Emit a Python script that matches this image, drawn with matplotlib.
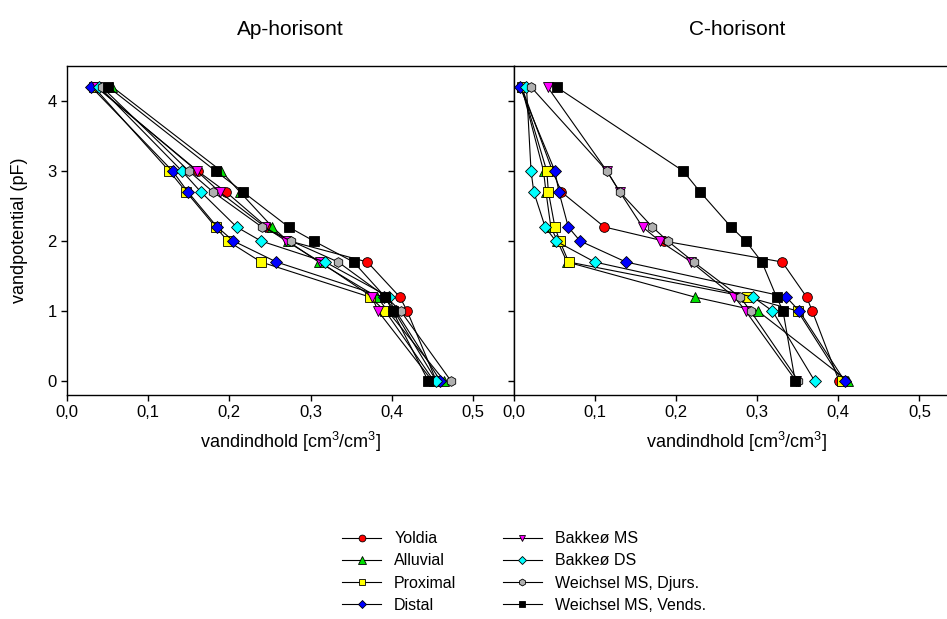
import matplotlib
matplotlib.use('Agg')
import matplotlib.pyplot as plt
from matplotlib.ticker import FixedLocator, FuncFormatter

plt.rcParams['font.family'] = ['Liberation Sans', 'DejaVu Sans']
plt.rcParams['mathtext.fontset'] = 'custom'
plt.rcParams['mathtext.rm'] = 'Liberation Sans'
plt.rcParams['mathtext.it'] = 'Liberation Sans'

# data
pF = [4.2, 3.0, 2.7, 2.2, 2.0, 1.7, 1.2, 1.0, 0.0]

names = ['Yoldia', 'Alluvial', 'Proximal', 'Distal',
         'Bakkeø MS', 'Bakkeø DS', 'Weichsel MS, Djurs.', 'Weichsel MS, Vends.']

# Ap-horisont
ap_yoldia = [0.036, 0.161, 0.196, 0.246, 0.274, 0.370, 0.410, 0.419, 0.455]
ap_alluvial = [0.056, 0.190, 0.213, 0.253, 0.272, 0.310, 0.382, 0.395, 0.465]
ap_proximal = [0.033, 0.126, 0.147, 0.183, 0.198, 0.239, 0.373, 0.392, 0.452]
ap_distal = [0.030, 0.130, 0.149, 0.185, 0.205, 0.258, 0.390, 0.405, 0.460]
ap_bakkeo_ms = [0.037, 0.160, 0.188, 0.244, 0.270, 0.312, 0.376, 0.383, 0.450]
ap_bakkeo_ds = [0.040, 0.1415, 0.165, 0.209, 0.239, 0.318, 0.397, 0.403, 0.455]
ap_weich_djurs = [0.043, 0.150, 0.180, 0.240, 0.276, 0.334, 0.393, 0.411, 0.473]
ap_weich_vends = [0.051, 0.183, 0.217, 0.273, 0.304, 0.353, 0.392, 0.401, 0.445]

# C-horisont
c_yoldia = [0.010, 0.048, 0.059, 0.112, 0.185, 0.331, 0.361, 0.368, 0.401]
c_alluvial = [0.010, 0.037, 0.040, 0.046, 0.054, 0.066, 0.223, 0.301, 0.412]
c_proximal = [0.010, 0.041, 0.043, 0.051, 0.057, 0.068, 0.288, 0.350, 0.405]
c_distal = [0.008, 0.051, 0.056, 0.0675, 0.082, 0.1385, 0.336, 0.352, 0.408]
c_bakkeo_ms = [0.042, 0.115, 0.131, 0.159, 0.180, 0.219, 0.272, 0.286, 0.348]
c_bakkeo_ds = [0.016, 0.0216, 0.025, 0.039, 0.052, 0.100, 0.295, 0.319, 0.371]
c_weich_djurs = [0.0216, 0.115, 0.131, 0.171, 0.190, 0.222, 0.279, 0.292, 0.351]
c_weich_vends = [0.053, 0.209, 0.230, 0.268, 0.286, 0.306, 0.324, 0.332, 0.347]

ap_series = [ap_yoldia, ap_alluvial, ap_proximal, ap_distal,
             ap_bakkeo_ms, ap_bakkeo_ds, ap_weich_djurs, ap_weich_vends]
c_series = [c_yoldia, c_alluvial, c_proximal, c_distal,
            c_bakkeo_ms, c_bakkeo_ds, c_weich_djurs, c_weich_vends]

colors = ['#ff0000', '#00e000', '#ffff00', '#0000ff',
          '#ff00ff', '#00ffff', '#b0b0b0', '#000000']
markers = ['o', '^', 's', 'D', 'v', 'D', 'h', 's']
sizes = [7, 7.5, 6.5, 6.5, 7, 6.5, 7, 6.5]

fig = plt.figure(figsize=(9.47, 6.19), dpi=100)
ax1 = fig.add_axes([67 / 947, 1 - 395 / 619, 446.5 / 947, 329 / 619])
ax2 = fig.add_axes([513.5 / 947, 1 - 395 / 619, 446.5 / 947, 329 / 619])

fmt = FuncFormatter(lambda v, p: ('%.1f' % v).replace('.', ','))

for ax, series, title in [(ax1, ap_series, 'Ap-horisont'), (ax2, c_series, 'C-horisont')]:
    for vals, name, col, mk, ms in zip(series, names, colors, markers, sizes):
        ax.plot(vals, pF, color='black', lw=0.8, marker=mk, markersize=ms,
                markerfacecolor=col, markeredgecolor='black', markeredgewidth=0.6,
                label=name)
    ax.set_xlim(0, 0.55)
    ax.set_ylim(-0.2, 4.5)
    ax.xaxis.set_major_locator(FixedLocator([0, 0.1, 0.2, 0.3, 0.4, 0.5]))
    ax.xaxis.set_major_formatter(fmt)
    ax.yaxis.set_major_locator(FixedLocator([0, 1, 2, 3, 4]))
    ax.tick_params(direction='out', length=4, width=1, labelsize=12, top=False, right=False)
    ax.set_title(title, fontsize=15, pad=22)
    ax.set_xlabel('vandindhold [cm$^3$/cm$^3$]', fontsize=13, labelpad=7)
    for s in ax.spines.values():
        s.set_linewidth(1.0)

ax1.set_ylabel('vandpotential (pF)', fontsize=13, labelpad=14)
ax2.tick_params(labelleft=False)

handles, labels = ax1.get_legend_handles_labels()
leg = fig.legend(handles, labels, loc='center', bbox_to_anchor=(524 / 947, 1 - 572 / 619),
                 ncol=2, frameon=False, fontsize=11.5, handlelength=2.45,
                 markerscale=0.7, labelspacing=0.45, columnspacing=2.9, handletextpad=0.8)

fig.savefig('out.png', dpi=100)
